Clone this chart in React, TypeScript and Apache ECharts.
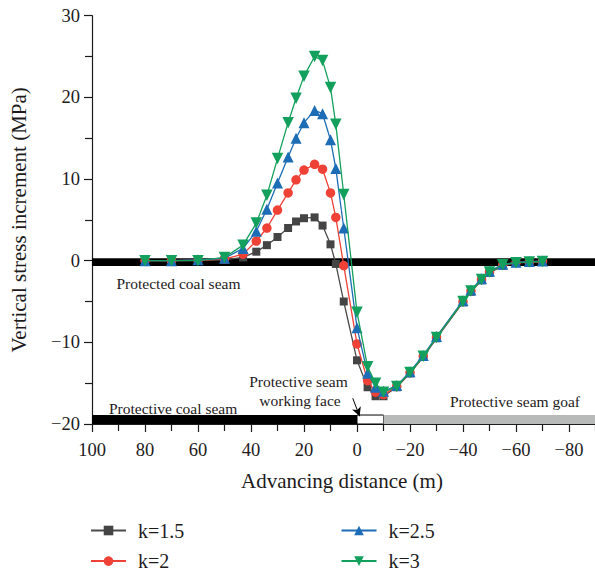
import React, { useEffect, useRef } from "react";
import * as echarts from "echarts";

// Advancing distance (m) of the monitoring points
const xs = [80, 70, 60, 50, 43, 38, 34, 30, 26, 23, 20, 16, 13, 10, 8, 5, 0, -4, -7, -10, -15, -20, -25, -30, -40, -43, -47, -50, -55, -60, -65, -70];

// Vertical stress increment (MPa)
const k15 = [0, 0, 0.05, 0.1, 0.4, 1.1, 1.9, 2.9, 4.0, 4.8, 5.2, 5.3, 4.3, 2.0, -0.4, -5.0, -12.2, -15.5, -16.6, -16.6, -15.5, -13.8, -11.8, -9.5, -5.1, -3.8, -2.4, -1.5, -0.6, -0.3, -0.2, -0.15];
const k2 = [0, 0, 0.05, 0.2, 0.8, 2.4, 4.0, 6.2, 8.3, 9.9, 11.1, 11.8, 11.2, 8.3, 5.3, -0.6, -10.2, -14.7, -16.1, -16.4, -15.4, -13.7, -11.7, -9.4, -5.0, -3.7, -2.3, -1.4, -0.5, -0.25, -0.15, -0.1];
const k25 = [0, 0, 0.1, 0.3, 1.5, 3.6, 6.3, 9.5, 12.7, 15.0, 16.9, 18.4, 18.0, 14.8, 11.3, 4.0, -8.2, -13.8, -15.5, -16.0, -15.3, -13.6, -11.6, -9.3, -4.9, -3.6, -2.2, -1.3, -0.45, -0.2, -0.1, -0.05];
const k3 = [0, 0, 0, 0.4, 1.9, 4.6, 8.0, 12.5, 16.9, 19.9, 22.6, 25.0, 24.5, 21.2, 16.7, 8.1, -6.3, -13.0, -15.0, -16.1, -15.4, -13.7, -11.7, -9.4, -5.0, -3.7, -2.3, -1.4, -0.5, -0.25, -0.15, -0.1];

const seriesNames = ["k=1.5", "k=2", "k=2.5", "k=3"];

// Seam layers: protected seam band around 0 MPa, protective seam zones (m)
const protectedBand = [0.3, -0.65];
const protectiveBand = [-20, -18.9];
const zoneBounds = [100, 0, -10, -100]; // coal seam | working face | goaf

// Arrow from the working-face label to the face position
const arrowFrom = [1.6, -16.85];
const arrowTo = [-1.0, -19.05];

const FONT = "Liberation Serif";
const INK = "#1e1b1c";

const fmt = (v: number) => (v <= -100 ? "" : v < 0 ? "\u2212" + Math.abs(v) : String(v));

export default function App() {
  const ref = useRef<HTMLDivElement>(null);

  useEffect(() => {
    if (!ref.current) return;
    const chart = echarts.init(ref.current, null, { renderer: "svg" });

    const mk = (vals: number[]) => xs.map((x, i) => [x, vals[i]]);
    const axisLineStyle = { color: INK, width: 1.2 };

    const styles = [
      { color: "#444444", line: "#4a4a4a", symbol: "rect", size: 8, rotate: 0 },
      { color: "#ef4136", line: "#ef4136", symbol: "circle", size: 9.5, rotate: 0 },
      { color: "#1c6db6", line: "#1c6db6", symbol: "triangle", size: 11, rotate: 0 },
      { color: "#12a05c", line: "#12a05c", symbol: "triangle", size: 11.5, rotate: 180 },
    ];
    const values = [k15, k2, k25, k3];

    const dataSeries = values.map((vals, i) => ({
      name: seriesNames[i],
      type: "line",
      data: mk(vals),
      symbol: styles[i].symbol,
      symbolSize: styles[i].size,
      symbolRotate: styles[i].rotate,
      showAllSymbol: true,
      z: 2 + i,
      lineStyle: { color: styles[i].line, width: 1.3 },
      itemStyle: { color: styles[i].color },
    }));

    const legendBase = {
      orient: "vertical",
      top: 520.5,
      height: 80,
      padding: 0,
      itemWidth: 35,
      itemHeight: 12,
      itemGap: 10.6,
      formatter: "{t|{name}}",
      textStyle: {
        fontSize: 20,
        lineHeight: 20,
        color: INK,
        fontFamily: FONT,
        padding: [0, 0, 0, 7],
        rich: { t: { fontSize: 20, lineHeight: 20, fontFamily: FONT, color: INK } },
      },
    };

    const option: any = {
      animation: false,
      backgroundColor: "#ffffff",
      textStyle: { fontFamily: FONT },
      grid: { left: 90, top: 15.7, width: 532, height: 408.3, containLabel: false },
      xAxis: {
        type: "value",
        inverse: true,
        min: -100,
        max: 100,
        interval: 20,
        axisLine: { show: true, onZero: false, lineStyle: axisLineStyle },
        axisTick: { show: true, length: 8, lineStyle: axisLineStyle },
        minorTick: { show: true, splitNumber: 2, length: 7, lineStyle: axisLineStyle },
        splitLine: { show: false },
        axisLabel: { fontSize: 18.5, margin: 16, color: INK, fontFamily: FONT, formatter: fmt },
        name: "Advancing distance (m)",
        nameLocation: "middle",
        nameGap: 46,
        nameTextStyle: { fontSize: 21, color: INK, fontFamily: FONT, padding: [0, 30, 0, 0] },
      },
      yAxis: {
        type: "value",
        min: -20,
        max: 30,
        interval: 10,
        axisLine: { show: true, onZero: false, lineStyle: axisLineStyle },
        axisTick: { show: true, length: 8, lineStyle: axisLineStyle },
        minorTick: { show: true, splitNumber: 2, length: 7, lineStyle: axisLineStyle },
        splitLine: { show: false },
        axisLabel: { fontSize: 18.5, margin: 12, color: INK, fontFamily: FONT, formatter: fmt },
        name: "Vertical stress increment (MPa)",
        nameLocation: "middle",
        nameGap: 63,
        nameTextStyle: { fontSize: 21, color: INK, fontFamily: FONT },
      },
      legend: [
        { ...legendBase, data: [seriesNames[0], seriesNames[1]], left: 90 },
        { ...legendBase, data: [seriesNames[2], seriesNames[3]], left: 340.5 },
      ],
      series: [
        {
          name: "layers",
          type: "line",
          data: [[zoneBounds[0], protectedBand[1]]],
          symbol: "none",
          showSymbol: false,
          lineStyle: { opacity: 0 },
          z: 1,
          silent: true,
          legendHoverLink: false,
          markArea: {
            silent: true,
            label: { show: false },
            data: [
              [
                { xAxis: zoneBounds[0], yAxis: protectedBand[0], itemStyle: { color: "#000000" } },
                { xAxis: zoneBounds[3], yAxis: protectedBand[1] },
              ],
              [
                { xAxis: zoneBounds[0], yAxis: protectiveBand[0], itemStyle: { color: "#000000" } },
                { xAxis: zoneBounds[1], yAxis: protectiveBand[1] },
              ],
              [
                { xAxis: zoneBounds[1], yAxis: protectiveBand[0], itemStyle: { color: "#ffffff", borderColor: "#000000", borderWidth: 1 } },
                { xAxis: zoneBounds[2], yAxis: protectiveBand[1] },
              ],
              [
                { xAxis: zoneBounds[2], yAxis: protectiveBand[0], itemStyle: { color: "#b8baba" } },
                { xAxis: zoneBounds[3], yAxis: protectiveBand[1] },
              ],
            ],
          },
        },
        ...dataSeries,
        {
          name: "arrow",
          type: "line",
          data: [[zoneBounds[0], protectedBand[1]]],
          symbol: "none",
          showSymbol: false,
          lineStyle: { opacity: 0 },
          z: 10,
          silent: true,
          markLine: {
            silent: true,
            symbol: ["none", "arrow"],
            symbolSize: [7, 9],
            label: { show: false },
            lineStyle: { color: "#000000", width: 1, type: "solid" },
            data: [[{ coord: arrowFrom }, { coord: arrowTo }]],
          },
        },
      ],
      graphic: [
        { type: "text", x: 116.5, y: 283, style: { text: "Protected coal seam", font: `15.5px ${FONT}`, fill: INK, align: "left", verticalAlign: "middle" } },
        { type: "text", x: 109, y: 408, style: { text: "Protective coal seam", font: `15.5px ${FONT}`, fill: INK, align: "left", verticalAlign: "middle" } },
        { type: "text", x: 298.5, y: 381.5, style: { text: "Protective seam", font: `15.5px ${FONT}`, fill: INK, align: "center", verticalAlign: "middle" } },
        { type: "text", x: 300, y: 400.5, style: { text: "working face", font: `15.5px ${FONT}`, fill: INK, align: "center", verticalAlign: "middle" } },
        { type: "text", x: 450, y: 401.5, style: { text: "Protective seam goaf", font: `15.5px ${FONT}`, fill: INK, align: "left", verticalAlign: "middle" } },
      ],
    };

    chart.setOption(option);
    return () => chart.dispose();
  }, []);

  return (
    <div style={{ position: "absolute", left: 0, top: 0, width: 595, height: 573, overflow: "hidden", background: "#fff" }}>
      <div ref={ref} style={{ width: 640, height: 573 }} />
    </div>
  );
}
